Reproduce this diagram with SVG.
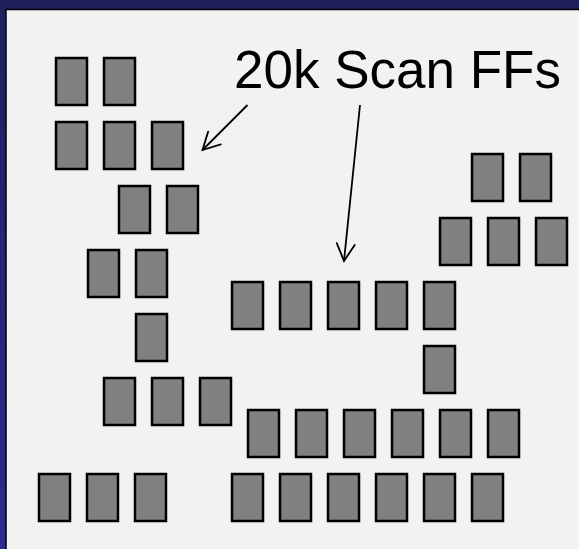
<svg xmlns="http://www.w3.org/2000/svg" width="579" height="549" viewBox="0 0 579 549">
  <defs>
    <linearGradient id="bg" x1="0" y1="0" x2="0" y2="1">
      <stop offset="0" stop-color="#1F1F5C"/>
      <stop offset="1" stop-color="#2C2C8C"/>
    </linearGradient>
    <marker id="vee" markerUnits="userSpaceOnUse" markerWidth="24" markerHeight="24" refX="0" refY="0" viewBox="-20 -12 24 24" orient="auto" overflow="visible">
      <path d="M -17 -9 L 0 0 L -17 9" fill="none" stroke="#000" stroke-width="1.8" stroke-linecap="round" stroke-linejoin="miter"/>
    </marker>
    <style>
      .ff rect { fill: #808080; stroke: #000; stroke-width: 2.5; }
      .lbl { font-family: "Liberation Sans", Arial, sans-serif; font-size: 53px; fill: #000; }
      .conn line { stroke: #000; stroke-width: 1.8; marker-end: url(#vee); }
    </style>
  </defs>
  <rect x="0" y="0" width="579" height="549" fill="url(#bg)"/>
  <rect x="6" y="9.5" width="600" height="600" fill="#F2F2F2" stroke="#000" stroke-width="1.5"/>

  <g id="label">
    <text class="lbl" x="234" y="88">20k Scan FFs</text>
  </g>

  <g id="connectors" class="conn">
    <line x1="247.5" y1="105" x2="202.5" y2="150"/>
    <line x1="360" y1="105" x2="344" y2="261"/>
  </g>

  <g id="ff-left" class="ff">
    <rect x="56" y="58" width="31" height="47"/>
    <rect x="104" y="58" width="31" height="47"/>
    <rect x="56" y="122" width="31" height="47"/>
    <rect x="104" y="122" width="31" height="47"/>
    <rect x="152" y="122" width="31" height="47"/>
    <rect x="119" y="186" width="31" height="47"/>
    <rect x="167" y="186" width="31" height="47"/>
    <rect x="88" y="250" width="31" height="47"/>
    <rect x="136" y="250" width="31" height="47"/>
    <rect x="136" y="314" width="31" height="47"/>
    <rect x="104" y="378" width="31" height="47"/>
    <rect x="152" y="378" width="31" height="47"/>
    <rect x="200" y="378" width="31" height="47"/>
    <rect x="39" y="474" width="31" height="47"/>
    <rect x="87" y="474" width="31" height="47"/>
    <rect x="135" y="474" width="31" height="47"/>
  </g>

  <g id="ff-right" class="ff">
    <rect x="472" y="154" width="31" height="47"/>
    <rect x="520" y="154" width="31" height="47"/>
    <rect x="440" y="218" width="31" height="47"/>
    <rect x="488" y="218" width="31" height="47"/>
    <rect x="536" y="218" width="31" height="47"/>
  </g>

  <g id="ff-middle" class="ff">
    <rect x="232" y="282" width="31" height="47"/>
    <rect x="280" y="282" width="31" height="47"/>
    <rect x="328" y="282" width="31" height="47"/>
    <rect x="376" y="282" width="31" height="47"/>
    <rect x="424" y="282" width="31" height="47"/>
    <rect x="424" y="346" width="31" height="47"/>
    <rect x="248" y="410" width="31" height="47"/>
    <rect x="296" y="410" width="31" height="47"/>
    <rect x="344" y="410" width="31" height="47"/>
    <rect x="392" y="410" width="31" height="47"/>
    <rect x="440" y="410" width="31" height="47"/>
    <rect x="488" y="410" width="31" height="47"/>
    <rect x="232" y="474" width="31" height="47"/>
    <rect x="280" y="474" width="31" height="47"/>
    <rect x="328" y="474" width="31" height="47"/>
    <rect x="376" y="474" width="31" height="47"/>
    <rect x="424" y="474" width="31" height="47"/>
    <rect x="472" y="474" width="31" height="47"/>
  </g>
</svg>
